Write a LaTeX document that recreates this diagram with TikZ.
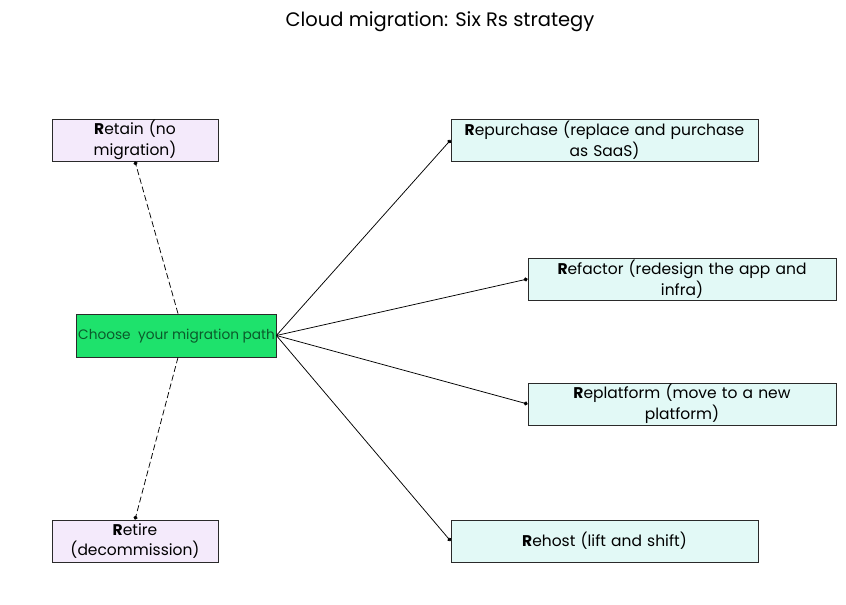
\documentclass[tikz,border=0pt]{standalone}
\usepackage{fontspec}
\setmainfont{Poppins}
\usetikzlibrary{arrows.meta,calc}
\definecolor{lav}{HTML}{F4EAFB}
\definecolor{cyanfill}{HTML}{E2F9F6}
\definecolor{greenfill}{HTML}{1EE26C}
\definecolor{greentext}{HTML}{0B5A2B}
\definecolor{edge}{HTML}{2A2A2A}
\begin{document}
\begin{tikzpicture}[x=1pt,y=-1pt,
  box/.style={draw=edge, line width=0.8pt, inner sep=1pt, align=center, font=\fontsize{15.5}{20.5}\selectfont, text=black},
  lavbox/.style={box, fill=lav, minimum width=166pt, minimum height=42pt, text width=160pt},
  cybox/.style={box, fill=cyanfill, minimum height=42pt},
  conn/.style={draw=black, line width=0.75pt, -{Circle[length=4pt]}},
  dconn/.style={conn, dashed, dash pattern=on 6pt off 3pt}]
\useasboundingbox (0,0) rectangle (846,605);
\node[font=\fontsize{19.5}{22}\selectfont] (title) at (440,22) {Cloud migration: Six Rs strategy};
\node[lavbox] (retain) at (135,140) {\textbf{R}etain (no\\migration)};
\node[lavbox] (retire) at (135,541) {\textbf{R}etire\\(decommission)};
\node[draw=edge, line width=0.8pt, fill=greenfill, minimum width=200pt, minimum height=43pt, inner sep=0pt] (choose) at (176,335.5) {};
\node[font=\fontsize{13.7}{16}\selectfont, text=greentext, anchor=west, inner sep=0pt] (chooselabel) at (78,336) {Choose\ \ your migration path};
\node[cybox, minimum width=307pt, text width=300pt] (repurchase) at (604.5,140) {\textbf{R}epurchase (replace and purchase\\as SaaS)};
\node[cybox, minimum width=308pt, text width=300pt] (refactor) at (682,279) {\textbf{R}efactor (redesign the app and\\infra)};
\node[cybox, minimum width=308pt, text width=300pt] (replatform) at (682,404) {\textbf{R}eplatform (move to a new\\platform)};
\node[cybox, minimum width=307pt, text width=300pt] (rehost) at (604.5,541) {\textbf{R}ehost (lift and shift)};
\draw[conn] (choose.east) -- (repurchase.west);
\draw[conn] (choose.east) -- (refactor.west);
\draw[conn] (choose.east) -- (replatform.west);
\draw[conn] (choose.east) -- (rehost.west);
\draw[dconn] ([xshift=2pt]choose.north) -- (retain.south);
\draw[dconn] ([xshift=2pt]choose.south) -- (retire.north);
\end{tikzpicture}
\end{document}
